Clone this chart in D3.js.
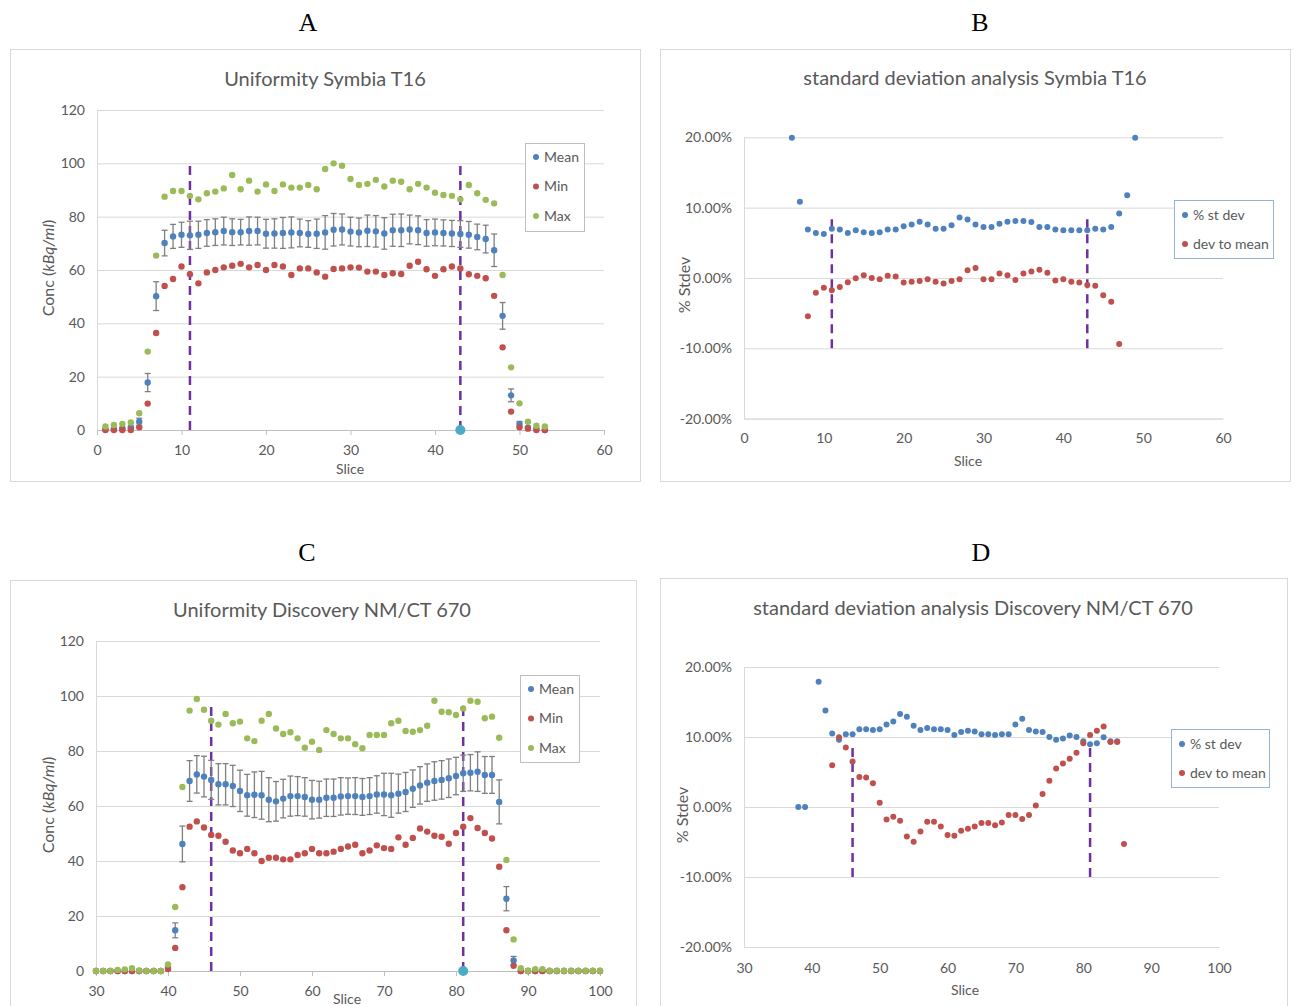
<!DOCTYPE html>
<html>
<head>
<meta charset="utf-8">
<script src="https://cdn.jsdelivr.net/npm/d3@7"></script>
<style>
  body { margin: 0; background: #fff; }
  svg { display: block; }
  text { font-family: Lato, 'Noto Sans', sans-serif; fill: #595959; }
</style>
</head>
<body>
<svg id="chart" width="1295" height="1006"></svg>
<script>
// ---- data: Symbia T16 (slices 1..53)
const slicesA = d3.range(1, 54);
const meanA = [0.2,0.3,0.6,0.9,3.1,17.8,50.2,70.1,72.6,73.2,
  73.0,73.2,73.9,74.2,74.6,74.2,74.2,74.6,74.6,73.6,
  73.7,73.9,74.1,73.9,73.5,73.6,74.1,75.1,75.2,74.4,
  74.1,74.7,74.5,73.7,74.9,74.9,75.2,74.9,73.9,74.1,
  73.9,73.7,73.5,73.2,72.4,71.6,67.4,42.8,13.0,2.3,
  0.9,0.5,0.0];
const errA = [0.3,0.3,0.4,0.6,1.3,3.4,5.4,4.8,4.5,4.7,
  5.3,5.1,5.0,5.0,5.2,5.0,4.8,5.3,5.2,5.4,
  5.5,5.8,5.8,5.2,5.0,5.5,6.3,6.1,5.8,5.4,
  5.4,5.9,5.9,5.9,6.0,6.1,5.4,5.4,5.0,5.0,
  4.9,4.9,5.0,5.0,4.8,5.2,6.1,5.0,2.4,0.9,
  0.4,0.2,0.1];
const minA = [0,0,0,0,1.0,9.9,36.4,54.0,56.6,61.3,
  58.4,55.0,59.1,60.0,61.0,61.6,62.3,61.0,61.9,60.0,
  61.9,61.3,58.1,60.6,60.6,59.1,57.5,60.4,60.6,61.0,
  60.9,59.4,59.4,58.1,58.8,58.5,61.6,63.1,60.3,57.8,
  60.3,61.3,60.6,58.4,57.8,56.9,50.3,31.0,6.9,1.0,
  0.5,0,0];
const maxA = [1.3,1.9,2.3,2.8,6.3,29.4,65.4,87.5,89.6,89.6,
  87.8,86.5,88.8,89.4,90.6,95.6,90.3,93.5,89.4,92.1,
  89.6,92.1,90.9,90.9,91.9,90.3,97.9,100.0,99.1,94.1,
  91.9,92.3,93.8,91.3,93.5,93.1,90.3,92.3,90.9,89.0,
  88.1,87.8,86.5,91.9,88.8,86.3,85.0,58.1,23.5,10.0,
  3.1,1.6,1.3];

// ---- data: Symbia T16 standard deviation analysis (%)
const slicesStdB = d3.range(6, 50);
const stdevB = [19.95,10.85,6.9,6.4,6.25,7.0,6.9,6.4,6.8,6.5,
  6.4,6.5,6.9,6.9,7.35,7.6,8.0,7.6,7.0,7.0,
  7.5,8.6,8.3,7.6,7.25,7.25,7.7,8.0,8.1,8.1,
  7.95,7.25,7.25,6.9,6.8,6.8,6.8,6.8,7.0,6.9,
  7.25,9.15,11.75,19.95];
const slicesDevB = d3.range(8, 48);
const devB = [-5.45,-2.1,-1.4,-1.75,-1.3,-0.6,-0.05,0.4,0.0,-0.2,
  0.3,0.2,-0.65,-0.55,-0.45,-0.2,-0.55,-0.8,-0.45,-0.2,
  1.1,1.4,-0.2,-0.2,0.65,0.4,-0.3,0.65,0.9,1.15,
  0.75,-0.35,-0.2,-0.55,-0.65,-1.0,-1.1,-2.45,-3.4,-9.4];

// ---- data: Discovery NM/CT 670 (slices 30..100)
const slicesC = d3.range(30, 101);
const meanC = [0,0,0,0,0,0,0,0,0,0,
  1.6,14.8,46.2,69.1,71.5,70.7,69.5,67.9,67.9,67.3,
  65.5,63.9,64.1,63.9,62.3,61.7,62.7,63.6,63.6,63.3,
  62.3,62.3,63.0,63.0,63.5,63.6,63.6,63.3,63.6,64.2,
  64.2,63.9,64.5,65.1,66.3,67.5,68.5,69.1,69.5,70.1,
  70.9,71.9,72.1,72.5,71.3,71.3,61.5,26.3,3.8,0,
  0,0,0,0,0,0,0,0,0,0,0];
const errC = [0,0,0,0,0,0,0,0,0,0,
  0.5,2.7,6.5,7.4,6.8,7.4,7.1,7.5,7.5,7.5,
  7.5,7.6,8.3,8.7,8.0,7.2,7.0,7.3,7.1,7.0,
  7.0,6.7,6.8,6.8,6.8,6.6,6.7,6.7,6.7,6.8,
  7.7,8.0,7.1,7.1,6.8,6.8,6.8,7.0,7.0,7.0,
  6.8,6.6,6.6,7.2,6.7,6.7,8.0,4.4,1.5,0,
  0,0,0,0,0,0,0,0,0,0,0];
const minC = [0,0,0,0,0,0,0,0,0,0,
  0.7,8.4,30.5,52.5,54.4,52.2,49.5,49.2,47.0,43.8,
  42.8,44.4,42.8,40.0,41.2,41.2,40.6,40.6,42.2,42.8,
  44.4,42.8,42.8,43.4,44.4,45.3,45.9,42.8,43.8,45.7,
  44.7,44.4,48.6,45.9,48.4,51.8,50.7,49.2,48.8,46.3,
  50.2,52.5,55.6,52.0,50.2,48.2,37.9,14.8,1.9,0,
  0,0,0,0,0,0,0,0,0,0,0];
const maxC = [0,0,0,0.4,0.6,1.0,0.2,0,0,0,
  2.4,23.3,66.9,94.7,98.9,95.0,91.0,89.6,93.5,90.1,
  90.7,84.6,83.6,91.0,93.5,88.2,86.2,86.8,84.6,81.2,
  83.4,80.4,87.6,86.2,84.6,84.6,82.5,81.0,85.8,85.8,
  85.8,90.1,91.0,87.3,87.0,87.6,89.2,98.3,94.3,94.1,
  93.1,95.5,98.3,97.9,91.9,92.5,84.8,40.4,11.5,1.0,
  0.1,0.7,0.7,0.1,0.1,0.1,0.1,0.1,0.1,0.1,0.1];

// ---- data: Discovery standard deviation analysis (%)
const slicesStdD = [38, 39].concat(d3.range(41, 86));
const stdevD = [0,0,17.9,13.8,10.5,9.6,10.4,10.4,11.1,11.1,
  11.0,11.1,11.8,12.2,13.3,12.9,11.6,11.0,11.3,11.1,
  11.1,11.0,10.3,10.7,10.9,10.8,10.4,10.4,10.3,10.4,
  10.4,11.8,12.6,11.0,10.8,10.7,10.0,9.6,9.8,10.2,
  10.0,9.4,8.95,9.1,9.95,9.4,9.4];
const slicesDevD = d3.range(43, 87);
const devD = [5.95,9.95,8.5,6.5,4.3,4.2,3.4,0.6,-1.8,-1.4,
  -1.95,-4.2,-4.95,-3.5,-2.1,-2.1,-2.8,-4.0,-4.1,-3.4,
  -3.1,-2.8,-2.3,-2.3,-2.6,-2.2,-1.15,-1.15,-1.7,-1.15,
  0.2,1.85,3.75,5.5,6.2,6.9,7.75,9.1,10.3,10.9,
  11.5,9.3,9.3,-5.3];

// ---- ticks, markers
const concTicks = [0, 20, 40, 60, 80, 100, 120];
const pctTicks = [-20, -10, 0, 10, 20];
const xTicksA = [0, 10, 20, 30, 40, 50, 60];
const xTicksC = [30, 40, 50, 60, 70, 80, 90, 100];
const markersA = [11, 43];
const markersC = [46, 81];

const BLUE = '#4f81bd', RED = '#c0504d', GREEN = '#9bbb59', PURPLE = '#7030a0', CYAN = '#4bacc6';

const svg = d3.select('#chart');

function panel(o) {
  const g = svg.append('g');
  g.append('rect')
    .attr('x', o.box[0] + 0.5).attr('y', o.box[1] + 0.5)
    .attr('width', o.box[2]).attr('height', o.box[3])
    .attr('fill', '#fff').attr('stroke', '#d9d9d9');

  const x = d3.scaleLinear().domain(o.xDomain).range(o.xRange);
  const y = d3.scaleLinear().domain(o.yDomain).range(o.yRange);
  const w = o.xRange[1] - o.xRange[0];

  // y axis with gridlines
  const ya = g.append('g')
    .attr('transform', `translate(${o.xRange[0]},0)`)
    .call(d3.axisLeft(y).tickValues(o.yTicks).tickSize(-w).tickSizeOuter(0)
      .tickPadding(12).tickFormat(o.yFormat));
  ya.select('.domain').attr('stroke', '#d9d9d9');
  ya.selectAll('.tick line').attr('stroke', '#d9d9d9');
  ya.selectAll('.tick text').style('font-size', '14px').attr('fill', '#595959');

  // x axis
  const xa = g.append('g')
    .attr('transform', `translate(0,${y(o.yDomain[0])})`)
    .call(d3.axisBottom(x).tickValues(o.xTicks).tickSize(o.xTickSize).tickSizeOuter(0)
      .tickPadding(o.xPad));
  xa.select('.domain').attr('stroke', o.xTickSize ? '#bfbfbf' : '#d9d9d9');
  xa.selectAll('.tick line').attr('stroke', '#bfbfbf');
  xa.selectAll('.tick text').style('font-size', '14px').attr('fill', '#595959');

  // title and labels
  g.append('text').attr('x', o.title[1]).attr('y', o.title[2])
    .attr('text-anchor', 'middle').style('font-size', '20px').text(o.title[0]);
  g.append('text').attr('x', o.xLabel[0]).attr('y', o.xLabel[1])
    .attr('text-anchor', 'middle').style('font-size', '14px').text('Slice');
  const yl = g.append('text')
    .attr('transform', `translate(${o.yLabel[0]},${o.yLabel[1]}) rotate(-90)`)
    .attr('text-anchor', 'middle').attr('dy', '0.35em').style('font-size', '16px');
  o.yLabelParts.forEach(([t, it]) => {
    yl.append('tspan').attr('font-style', it ? 'italic' : 'normal').text(t);
  });

  // marker lines
  g.selectAll('line.marker').data(o.markers).enter().append('line')
    .attr('x1', d => x(d)).attr('x2', d => x(d))
    .attr('y1', y(o.markerRange[0])).attr('y2', y(o.markerRange[1]))
    .attr('stroke', PURPLE).attr('stroke-width', 2.5).attr('stroke-dasharray', '9,6');

  // error bars
  if (o.err) {
    const eb = g.append('g').attr('stroke', '#7f7f7f').attr('stroke-width', 1.3);
    o.err.forEach(([s, m, e]) => {
      if (e < 0.3) return;
      eb.append('line').attr('x1', x(s)).attr('x2', x(s)).attr('y1', y(m - e)).attr('y2', y(m + e));
      eb.append('line').attr('x1', x(s) - 3).attr('x2', x(s) + 3).attr('y1', y(m - e)).attr('y2', y(m - e));
      eb.append('line').attr('x1', x(s) - 3).attr('x2', x(s) + 3).attr('y1', y(m + e)).attr('y2', y(m + e));
    });
  }

  // series points
  o.series.forEach(sr => {
    g.append('g').selectAll('circle').data(d3.zip(sr.slices, sr.values)).enter()
      .append('circle')
      .attr('cx', d => x(d[0])).attr('cy', d => y(d[1]))
      .attr('r', o.r).attr('fill', sr.color);
  });

  if (o.cyan) {
    g.append('circle').attr('cx', x(o.cyan)).attr('cy', y(0)).attr('r', 5).attr('fill', CYAN);
  }

  // legend
  const L = o.legend;
  g.append('rect').attr('x', L.box[0] + 0.5).attr('y', L.box[1] + 0.5)
    .attr('width', L.box[2]).attr('height', L.box[3])
    .attr('fill', '#fff').attr('stroke', L.stroke);
  o.series.forEach((sr, i) => {
    const yy = L.box[1] + L.first + i * L.step;
    g.append('circle').attr('cx', L.box[0] + 11).attr('cy', yy).attr('r', 3).attr('fill', sr.color);
    g.append('text').attr('x', L.box[0] + 19).attr('y', yy).attr('dy', '0.35em')
      .style('font-size', '14px').text(sr.name);
  });
}

const pctFmt = d => d.toFixed(2) + '%';
const concLabel = [['Conc ('], ['kBq/ml', true], [')']];

panel({
  box: [10, 49, 630, 432],
  xDomain: [0, 60], xRange: [97, 604], yDomain: [0, 120], yRange: [430, 110],
  yTicks: concTicks, yFormat: d3.format('d'), xTicks: xTicksA, xTickSize: 5, xPad: 10,
  title: ['Uniformity Symbia T16', 325, 86], xLabel: [350, 474], yLabel: [48, 268],
  yLabelParts: concLabel,
  markers: markersA, markerRange: [0, 100], cyan: 43, r: 3.2,
  err: d3.zip(slicesA, meanA, errA),
  series: [
    {name: 'Mean', slices: slicesA, values: meanA, color: BLUE},
    {name: 'Min', slices: slicesA, values: minA, color: RED},
    {name: 'Max', slices: slicesA, values: maxA, color: GREEN}],
  legend: {box: [525, 143, 59, 88], first: 14, step: 29.5, stroke: '#bfbfbf'}
});

panel({
  box: [660, 49, 630, 432],
  xDomain: [0, 60], xRange: [744, 1223], yDomain: [-20, 20], yRange: [418.6, 137.3],
  yTicks: pctTicks, yFormat: pctFmt, xTicks: xTicksA, xTickSize: 0, xPad: 14,
  title: ['standard deviation analysis Symbia T16', 975, 85], xLabel: [968, 466], yLabel: [684, 285],
  yLabelParts: [['% Stdev']],
  markers: markersA, markerRange: [-10, 8.5], r: 3,
  series: [
    {name: '% st dev', slices: slicesStdB, values: stdevB, color: BLUE},
    {name: 'dev to mean', slices: slicesDevB, values: devB, color: RED}],
  legend: {box: [1174, 200, 99, 58], first: 15, step: 29, stroke: '#95b3d7'}
});

panel({
  box: [10, 580, 626, 440],
  xDomain: [30, 100], xRange: [96, 600], yDomain: [0, 120], yRange: [971, 641],
  yTicks: concTicks, yFormat: d3.format('d'), xTicks: xTicksC, xTickSize: 5, xPad: 10,
  title: ['Uniformity Discovery NM/CT 670', 322, 617], xLabel: [347, 1004], yLabel: [48, 805],
  yLabelParts: concLabel,
  markers: markersC, markerRange: [0, 98], cyan: 81, r: 3.2,
  err: d3.zip(slicesC, meanC, errC),
  series: [
    {name: 'Mean', slices: slicesC, values: meanC, color: BLUE},
    {name: 'Min', slices: slicesC, values: minC, color: RED},
    {name: 'Max', slices: slicesC, values: maxC, color: GREEN}],
  legend: {box: [520, 675, 59, 87], first: 14, step: 29.5, stroke: '#bfbfbf'}
});

panel({
  box: [660, 578, 627, 440],
  xDomain: [30, 100], xRange: [744, 1219], yDomain: [-20, 20], yRange: [947, 667],
  yTicks: pctTicks, yFormat: pctFmt, xTicks: xTicksC, xTickSize: 0, xPad: 16,
  title: ['standard deviation analysis Discovery NM/CT 670', 973, 615], xLabel: [965, 995], yLabel: [682, 815],
  yLabelParts: [['% Stdev']],
  markers: markersC, markerRange: [-10, 8.5], r: 3,
  series: [
    {name: '% st dev', slices: slicesStdD, values: stdevD, color: BLUE},
    {name: 'dev to mean', slices: slicesDevD, values: devD, color: RED}],
  legend: {box: [1171, 729, 98, 58], first: 15, step: 29, stroke: '#95b3d7'}
});

// panel letters
[['A', 308, 31], ['B', 980, 31], ['C', 307, 561], ['D', 981, 561]].forEach(([t, lx, ly]) => {
  svg.append('text').attr('x', lx).attr('y', ly).attr('text-anchor', 'middle')
    .style('font-family', "'Liberation Serif', 'DejaVu Serif', serif")
    .style('font-size', '26px').style('fill', '#000').text(t);
});
</script>
</body>
</html>
